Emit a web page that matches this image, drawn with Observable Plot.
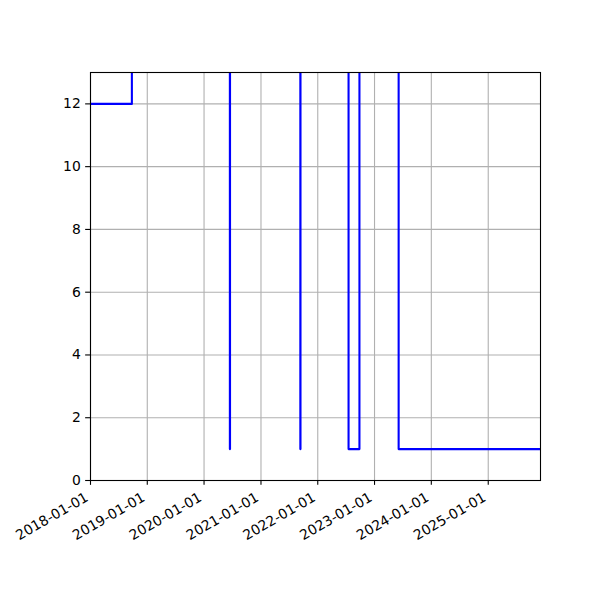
<!DOCTYPE html>
<html>
<head>
<meta charset="utf-8">
<script src="https://cdn.jsdelivr.net/npm/d3@7"></script>
<script src="https://cdn.jsdelivr.net/npm/@observablehq/plot@0.6"></script>
<style>
  html, body { margin: 0; padding: 0; background: #fff; }
  #chart { width: 600px; height: 600px; }
</style>
</head>
<body>
<div id="chart"></div>
<script>
// Data (values above 13 are clipped in the reference; their true level is unknown)
const dates = ["2018-01-01","2018-09-24","2020-06-15","2020-06-16","2021-09-11","2021-09-12","2022-07-18","2022-09-26","2023-06-05","2025-12-03"];
const values = [12, 20, 1, 20, 1, 20, 1, 20, 1, 1];
const xTickLabels = ["2018-01-01","2019-01-01","2020-01-01","2021-01-01","2022-01-01","2023-01-01","2024-01-01","2025-01-01"];
const yTicks = [0, 2, 4, 6, 8, 10, 12];
const xDomain = ["2018-01-01", "2025-12-03"];
const yDomain = [0, 13];

const parse = d3.utcParse("%Y-%m-%d");
const data = dates.map((d, i) => ({date: parse(d), value: values[i]}));
const xTicks = xTickLabels.map(parse);

const lw = 1.1;
const chart = Plot.plot({
  width: 600,
  height: 600,
  marginLeft: 90,
  marginRight: 60,
  marginTop: 72,
  marginBottom: 120,
  style: {fontFamily: "DejaVu Sans", fontSize: "13.9px", color: "black", background: "white"},
  x: {type: "utc", domain: xDomain.map(parse)},
  y: {domain: yDomain},
  marks: [
    Plot.gridX(xTicks, {stroke: "#b0b0b0", strokeOpacity: 1, strokeWidth: lw}),
    Plot.gridY(yTicks, {stroke: "#b0b0b0", strokeOpacity: 1, strokeWidth: lw}),
    Plot.line(data, {x: "date", y: "value", curve: "step-after", stroke: "#0000ff", strokeWidth: 2.08, clip: true}),
    Plot.frame({stroke: "black", strokeWidth: lw}),
    Plot.axisY({ticks: yTicks, tickSize: 4.86, tickPadding: 4.86, label: null, strokeWidth: lw, fontSize: 13.9, tickFormat: d => String(d)}),
    Plot.axisX({ticks: xTicks, tickSize: 4.86, label: null, strokeWidth: lw, tickFormat: () => ""}),
    Plot.text(xTicks, {x: d => d, frameAnchor: "bottom", text: (d, i) => xTickLabels[i], rotate: -30, textAnchor: "end", lineAnchor: "middle", dx: -3.5, dy: 15.7, fontSize: 13.9, fill: "black"})
  ]
});
document.getElementById("chart").appendChild(chart);
</script>
</body>
</html>
